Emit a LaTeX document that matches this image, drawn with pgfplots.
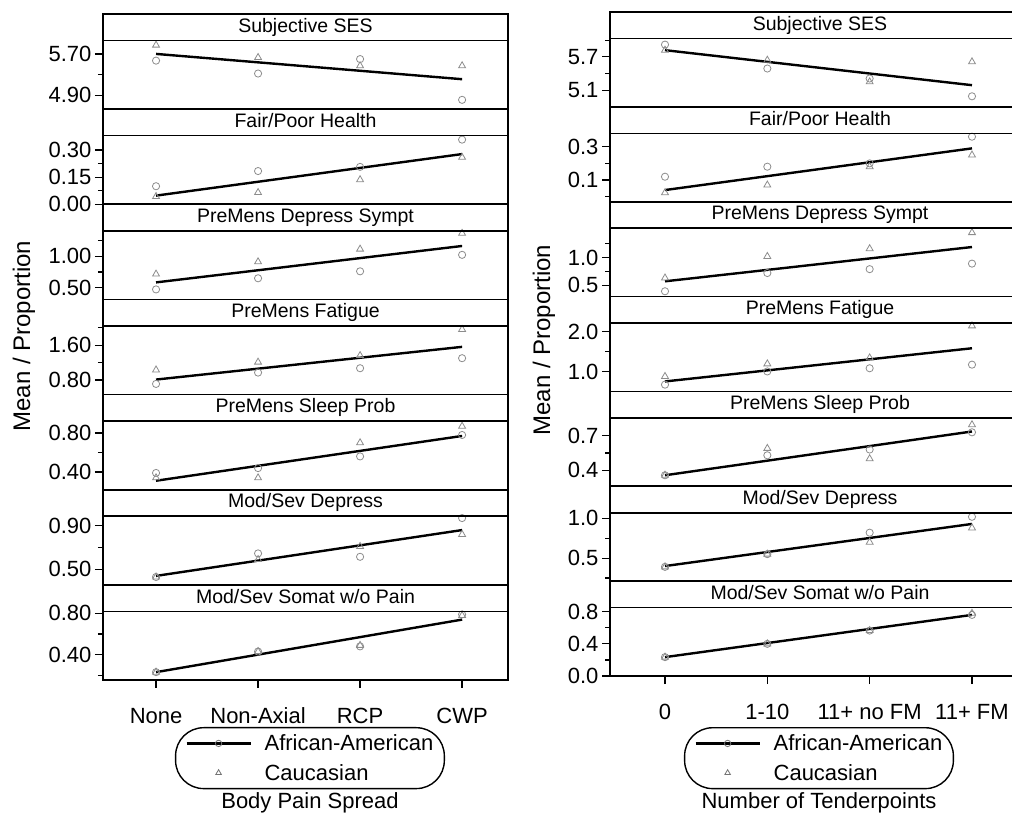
\documentclass[border=0pt]{standalone}
\usepackage{fontspec}
\setmainfont{Liberation Sans}
\usepackage{pgfplots}
\pgfplotsset{compat=1.18}

\pgfplotsset{
  every axis title shift=0pt,
  facet/.style={
    scale only axis, clip=false,
    axis line style={line width=1.6pt},
    tick style={line width=1.2pt, black},
    major tick length=8pt, minor tick length=5pt,
    tick align=outside,
    ytick pos=left, xtick=\empty,
    /pgf/number format/assume math mode=true,
    yticklabel style={font=\fontsize{22}{26}\selectfont},
    title style={at={(0.5,1)}, anchor=south, yshift=0pt, draw, line width=1.6pt,
      inner sep=0pt, outer sep=0pt, minimum height=26.5pt,
      text height=14pt, text depth=4pt,
      font=\fontsize{19.5}{22}\selectfont},
  },
  leftcol/.style={width=405pt, height=68.64pt, xmin=0.48, xmax=4.45,
    title style={minimum width=405pt}},
  rightcol/.style={width=420pt, height=68.36pt, xmin=0.4625, xmax=4.567,
    title style={minimum width=420pt}},
  fitline/.style={black, line width=2.4pt, no markers},
  aam/.style={only marks, mark=o, mark size=3.6pt,
    mark options={draw=black!45, line width=0.8pt}},
  cam/.style={only marks, mark=triangle, mark size=4pt,
    mark options={draw=black!45, line width=0.8pt}},
  longleg/.style={legend image code/.code={
    \path[draw=none, fill=none] (-2pt,0pt) rectangle (76pt,1pt);
    \draw[mark repeat=2,mark phase=2,##1] plot coordinates {(0pt,0pt) (32pt,0pt) (64pt,0pt)};}},
  bottomx/.style={xtick={1,2,3,4}, xtick pos=bottom,
    xticklabel style={font=\fontsize{22}{26}\selectfont, text height=16pt, text depth=5pt, yshift=-16pt}},
  legbox/.style={legend style={draw=black, line width=1.4pt, rounded corners=28pt,
    font=\fontsize{22}{26}\selectfont, legend cell align=left,
    inner xsep=9pt, inner ysep=5pt, row sep=8pt,
    /tikz/every even column/.append style={column sep=0pt}}},
}

\begin{document}
\begin{tikzpicture}
\path[use as bounding box] (0pt,0pt) rectangle (1012pt,-813pt);
\clip (0pt,0pt) rectangle (1012pt,-813pt);

% ================= LEFT COLUMN: Body Pain Spread =================
\begin{axis}[facet, leftcol, at={(103pt,-40.5pt)}, anchor=north west,
  ymin=4.63, ymax=5.96, ytick={4.9,5.7}, yticklabels={4.90,5.70}, minor ytick={5.3},
  title={Subjective SES}]
\addplot[fitline] coordinates {(1,5.70) (4,5.21)};
\addplot[aam] coordinates {(1,5.57) (2,5.32) (3,5.60) (4,4.81)};
\addplot[cam] coordinates {(1,5.87) (2,5.63) (3,5.47) (4,5.47)};
\end{axis}

\begin{axis}[facet, leftcol, at={(103pt,-135.64pt)}, anchor=north west,
  ymin=0, ymax=0.38, ytick={0,0.15,0.3}, yticklabels={0.00,0.15,0.30}, minor ytick={0.075,0.225},
  title={Fair/Poor Health}]
\addplot[fitline] coordinates {(1,0.048) (4,0.278)};
\addplot[aam] coordinates {(1,0.10) (2,0.184) (3,0.207) (4,0.358)};
\addplot[cam] coordinates {(1,0.043) (2,0.065) (3,0.136) (4,0.26)};
\end{axis}

\begin{axis}[facet, leftcol, at={(103pt,-230.78pt)}, anchor=north west,
  ymin=0.316, ymax=1.40, ytick={0.5,1.0}, yticklabels={0.50,1.00}, minor ytick={0.75,1.25},
  title={PreMens Depress Sympt}]
\addplot[fitline] coordinates {(1,0.585) (4,1.16)};
\addplot[aam] coordinates {(1,0.474) (2,0.65) (3,0.76) (4,1.02)};
\addplot[cam] coordinates {(1,0.716) (2,0.91) (3,1.11) (4,1.36)};
\end{axis}

\begin{axis}[facet, leftcol, at={(103pt,-325.92pt)}, anchor=north west,
  ymin=0.466, ymax=2.04, ytick={0.8,1.6}, yticklabels={0.80,1.60}, minor ytick={1.2,2.0},
  title={PreMens Fatigue}]
\addplot[fitline] coordinates {(1,0.81) (4,1.56)};
\addplot[aam] coordinates {(1,0.71) (2,0.97) (3,1.07) (4,1.30)};
\addplot[cam] coordinates {(1,1.03) (2,1.21) (3,1.36) (4,1.96)};
\end{axis}

\begin{axis}[facet, leftcol, at={(103pt,-421.06pt)}, anchor=north west,
  ymin=0.218, ymax=0.923, ytick={0.4,0.8}, yticklabels={0.40,0.80}, minor ytick={0.6},
  title={PreMens Sleep Prob}]
\addplot[fitline] coordinates {(1,0.31) (4,0.77)};
\addplot[aam] coordinates {(1,0.39) (2,0.44) (3,0.56) (4,0.78)};
\addplot[cam] coordinates {(1,0.34) (2,0.34) (3,0.70) (4,0.87)};
\end{axis}

\begin{axis}[facet, leftcol, at={(103pt,-516.2pt)}, anchor=north west,
  ymin=0.358, ymax=0.987, ytick={0.5,0.9}, yticklabels={0.50,0.90}, minor ytick={0.7},
  title={Mod/Sev Depress}]
\addplot[fitline] coordinates {(1,0.44) (4,0.86)};
\addplot[aam] coordinates {(1,0.43) (2,0.646) (3,0.615) (4,0.97)};
\addplot[cam] coordinates {(1,0.43) (2,0.59) (3,0.71) (4,0.82)};
\end{axis}

\begin{axis}[facet, leftcol, bottomx, legbox, at={(103pt,-611.34pt)}, anchor=north west,
  ymin=0.154, ymax=0.82, ytick={0.4,0.8}, yticklabels={0.40,0.80}, minor ytick={0.2,0.6},
  xticklabels={None,Non-Axial,RCP,CWP},
  legend style={at={(0.511,-0.685)}, anchor=north},
  title={Mod/Sev Somat w/o Pain}]
\addlegendimage{longleg, black, line width=2.2pt, mark=o, mark size=3.2pt,
  mark options={fill=white, draw=black!55, line width=0.8pt}}
\addlegendentry{African-American}
\addlegendimage{longleg, only marks, mark=triangle, mark size=3.2pt,
  mark options={draw=black!55, line width=0.8pt, sharp corners}}
\addlegendentry{Caucasian}
\addplot[fitline, forget plot] coordinates {(1,0.23) (4,0.74)};
\addplot[aam, forget plot] coordinates {(1,0.23) (2,0.43) (3,0.48) (4,0.79)};
\addplot[cam, forget plot] coordinates {(1,0.23) (2,0.43) (3,0.49) (4,0.78)};
\end{axis}

% ================= RIGHT COLUMN: Number of Tenderpoints =================
\begin{axis}[facet, rightcol, at={(610pt,-38.5pt)}, anchor=north west,
  ymin=4.80, ymax=6.03, ytick={5.1,5.7}, yticklabels={5.1,5.7}, minor ytick={5.4,6.0},
  title={Subjective SES}]
\addplot[fitline] coordinates {(1,5.82) (4,5.19)};
\addplot[aam] coordinates {(1,5.92) (2,5.49) (3,5.31) (4,4.99)};
\addplot[cam] coordinates {(1,5.82) (2,5.64) (3,5.25) (4,5.61)};
\end{axis}

\begin{axis}[facet, rightcol, at={(610pt,-133.36pt)}, anchor=north west,
  ymin=-0.03, ymax=0.38, ytick={0.1,0.3}, yticklabels={0.1,0.3}, minor ytick={0.0,0.2},
  title={Fair/Poor Health}]
\addplot[fitline] coordinates {(1,0.04) (4,0.29)};
\addplot[aam] coordinates {(1,0.12) (2,0.18) (3,0.20) (4,0.36)};
\addplot[cam] coordinates {(1,0.024) (2,0.07) (3,0.18) (4,0.25)};
\end{axis}

\begin{axis}[facet, rightcol, at={(610pt,-228.22pt)}, anchor=north west,
  ymin=0.294, ymax=1.53, ytick={0.5,1.0}, yticklabels={0.5,1.0}, minor ytick={0.75,1.25},
  title={PreMens Depress Sympt}]
\addplot[fitline] coordinates {(1,0.57) (4,1.19)};
\addplot[aam] coordinates {(1,0.39) (2,0.72) (3,0.79) (4,0.89)};
\addplot[cam] coordinates {(1,0.63) (2,1.02) (3,1.16) (4,1.45)};
\end{axis}

\begin{axis}[facet, rightcol, at={(610pt,-323.08pt)}, anchor=north west,
  ymin=0.5, ymax=2.21, ytick={1.0,2.0}, yticklabels={1.0,2.0}, minor ytick={1.5},
  title={PreMens Fatigue}]
\addplot[fitline] coordinates {(1,0.75) (4,1.58)};
\addplot[aam] coordinates {(1,0.67) (2,1.0) (3,1.08) (4,1.17)};
\addplot[cam] coordinates {(1,0.875) (2,1.19) (3,1.34) (4,2.14)};
\end{axis}

\begin{axis}[facet, rightcol, at={(610pt,-417.94pt)}, anchor=north west,
  ymin=0.26, ymax=0.855, ytick={0.4,0.7}, yticklabels={0.4,0.7}, minor ytick={0.55},
  title={PreMens Sleep Prob}]
\addplot[fitline] coordinates {(1,0.356) (4,0.737)};
\addplot[aam] coordinates {(1,0.356) (2,0.53) (3,0.58) (4,0.73)};
\addplot[cam] coordinates {(1,0.356) (2,0.59) (3,0.50) (4,0.796)};
\end{axis}

\begin{axis}[facet, rightcol, at={(610pt,-512.8pt)}, anchor=north west,
  ymin=0.21, ymax=1.07, ytick={0.5,1.0}, yticklabels={0.5,1.0}, minor ytick={0.25,0.75},
  title={Mod/Sev Depress}]
\addplot[fitline] coordinates {(1,0.40) (4,0.93)};
\addplot[aam] coordinates {(1,0.39) (2,0.55) (3,0.82) (4,1.02)};
\addplot[cam] coordinates {(1,0.39) (2,0.55) (3,0.70) (4,0.88)};
\end{axis}

\begin{axis}[facet, rightcol, bottomx, legbox, at={(610pt,-607.66pt)}, anchor=north west,
  ymin=0.0, ymax=0.85, ytick={0,0.4,0.8}, yticklabels={0.0,0.4,0.8}, minor ytick={0.2,0.6},
  xticklabels={0,1-10,11+ no FM,11+ FM},
  legend style={at={(0.4976,-0.746)}, anchor=north},
  title={Mod/Sev Somat w/o Pain}]
\addlegendimage{longleg, black, line width=2.2pt, mark=o, mark size=3.2pt,
  mark options={fill=white, draw=black!55, line width=0.8pt}}
\addlegendentry{African-American}
\addlegendimage{longleg, only marks, mark=triangle, mark size=3.2pt,
  mark options={draw=black!55, line width=0.8pt, sharp corners}}
\addlegendentry{Caucasian}
\addplot[fitline, forget plot] coordinates {(1,0.235) (4,0.76)};
\addplot[aam, forget plot] coordinates {(1,0.235) (2,0.40) (3,0.565) (4,0.76)};
\addplot[cam, forget plot] coordinates {(1,0.235) (2,0.40) (3,0.565) (4,0.78)};
\end{axis}

% axis titles
\node[font=\fontsize{24}{28}\selectfont, rotate=90] at (24pt,-336pt) {Mean / Proportion};
\node[font=\fontsize{24}{28}\selectfont, rotate=90] at (544pt,-340pt) {Mean / Proportion};
\node[font=\fontsize{22}{26}\selectfont] at (310pt,-803pt) {Body Pain Spread};
\node[font=\fontsize{22}{26}\selectfont] at (819pt,-803pt) {Number of Tenderpoints};
\end{tikzpicture}
\end{document}
